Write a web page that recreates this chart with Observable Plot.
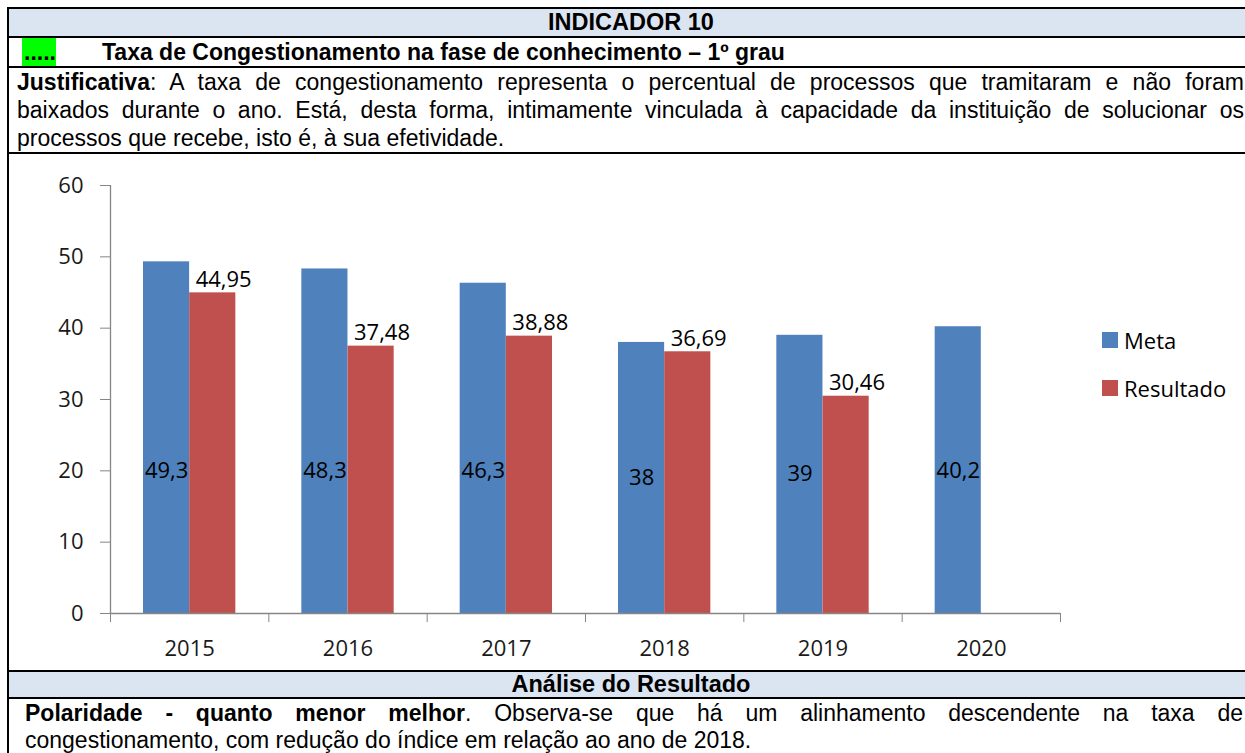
<!DOCTYPE html>
<html><head><meta charset="utf-8">
<script src="https://cdn.jsdelivr.net/npm/d3@7"></script>
<script src="https://cdn.jsdelivr.net/npm/@observablehq/plot@0.6"></script>
<style>
html,body{margin:0;padding:0;background:#fff;}
body{width:1245px;height:753px;overflow:hidden;position:relative;font-family:"Liberation Sans",Arial,sans-serif;color:#000;}
.hl{position:absolute;left:7px;width:1260px;height:2px;background:#000;}
.vl{position:absolute;left:7px;top:7px;width:2px;height:760px;background:#000;}
.blue{position:absolute;left:9px;width:1250px;background:#dbe5f1;}
.hdr{position:absolute;left:9px;width:1244px;text-align:center;font-weight:bold;font-size:23.5px;}
.jl{text-align:justify;text-align-last:justify;white-space:nowrap;}
.txt{position:absolute;font-size:23px;line-height:28px;}
#chart{position:absolute;left:9px;top:154px;}
.leg{position:absolute;font-family:"Open Sans",sans-serif;font-size:22px;line-height:22px;color:#000;}
.sw{position:absolute;width:16px;height:16px;}
</style>
</head><body>
<div class="blue" style="top:9px;height:27px;"></div>
<div class="blue" style="top:672px;height:25px;"></div>
<div class="hl" style="top:7px"></div>
<div class="hl" style="top:36px"></div>
<div class="hl" style="top:66px"></div>
<div class="hl" style="top:152px"></div>
<div class="hl" style="top:670px"></div>
<div class="hl" style="top:697px"></div>
<div class="vl"></div>

<div class="hdr" style="top:9px;line-height:27px;">INDICADOR 10</div>

<div style="position:absolute;left:22px;top:38px;width:34px;height:28px;background:#00ff00;"></div>
<div style="position:absolute;left:24px;top:38px;line-height:28px;font-weight:bold;font-size:23px;">.....</div>
<div style="position:absolute;left:102px;top:38px;line-height:28px;font-weight:bold;font-size:23px;">Taxa de Congestionamento na fase de conhecimento – 1º grau</div>

<div class="txt" style="left:17px;top:68px;width:1227px;">
  <div class="jl"><b>Justificativa</b>: A taxa de congestionamento representa o percentual de processos que tramitaram e não foram</div>
  <div class="jl">baixados durante o ano. Está, desta forma, intimamente vinculada à capacidade da instituição de solucionar os</div>
  <div>processos que recebe, isto é, à sua efetividade.</div>
</div>

<div id="chart"></div>

<div class="sw" style="left:1102px;top:332px;background:#4f81bd;"></div>
<div class="leg" style="left:1124px;top:329px;">Meta</div>
<div class="sw" style="left:1102px;top:380px;background:#c0504d;"></div>
<div class="leg" style="left:1124px;top:377px;">Resultado</div>

<div class="hdr" style="top:672px;line-height:25px;">Análise do Resultado</div>

<div class="txt" style="left:25px;top:700px;width:1218px;line-height:27px;">
  <div class="jl"><b>Polaridade - quanto menor melhor</b>. Observa-se que há um alinhamento descendente na taxa de</div>
  <div>congestionamento, com redução do índice em relação ao ano de 2018.</div>
</div>

<script>
const years = [2015, 2016, 2017, 2018, 2019, 2020];
const meta = [49.3, 48.3, 46.3, 38, 39, 40.2];
const resultado = [44.95, 37.48, 38.88, 36.69, 30.46, null];
const yTicks = [0, 10, 20, 30, 40, 50, 60];
const seriesNames = ["Meta", "Resultado"];
const seriesColors = ["#4f81bd", "#c0504d"];

const metaData = years.map((year, i) => ({i, year, value: meta[i]}));
const resData = years.map((year, i) => ({i, year, value: resultado[i]})).filter(d => d.value != null);
const fmt = d => String(d.value).replace(".", ",");
const axisColor = "#868686";

const chart = Plot.plot({
  width: 1236, height: 516,
  marginLeft: 101, marginRight: 185, marginTop: 31, marginBottom: 57,
  style: {fontFamily: "'Open Sans', sans-serif", fontSize: "22px", color: "#000", background: "transparent", overflow: "visible"},
  x: {type: "linear", domain: [0, years.length]},
  y: {domain: [0, 60]},
  marks: [
    Plot.rect(metaData, {x1: "i", x2: d => d.i + 1, y1: 0, y2: "value", fill: seriesColors[0], insetLeft: 33, insetRight: 79.2}),
    Plot.rect(resData, {x1: "i", x2: d => d.i + 1, y1: 0, y2: "value", fill: seriesColors[1], insetLeft: 79.2, insetRight: 33}),
    Plot.ruleY([0], {stroke: axisColor, strokeWidth: 1.3}),
    Plot.ruleX([0], {stroke: axisColor, strokeWidth: 1.3}),
    Plot.axisY(yTicks, {tickSize: 10, tickPadding: 17, stroke: axisColor, fill: "#1a1a1a", label: null, tickFormat: d => String(d)}),
    Plot.axisX(d3.range(years.length + 1), {tickSize: 9, stroke: axisColor, tickFormat: () => "", label: null}),
    Plot.axisX(years.map((y, i) => i + 0.5), {tickSize: 0, tickPadding: 27, tickFormat: v => String(years[Math.floor(v)]), fill: "#1a1a1a", label: null}),
    Plot.text(metaData, {x: d => d.i + 0.5, y: d => Math.min(d.value / 2, 20), dx: -23, text: fmt, fill: "#000"}),
    Plot.text(resData, {x: d => d.i + 0.5, y: "value", dx: 34, dy: -13, text: fmt, fill: "#000"})
  ]
});
document.getElementById("chart").appendChild(chart);
</script>
</body></html>
